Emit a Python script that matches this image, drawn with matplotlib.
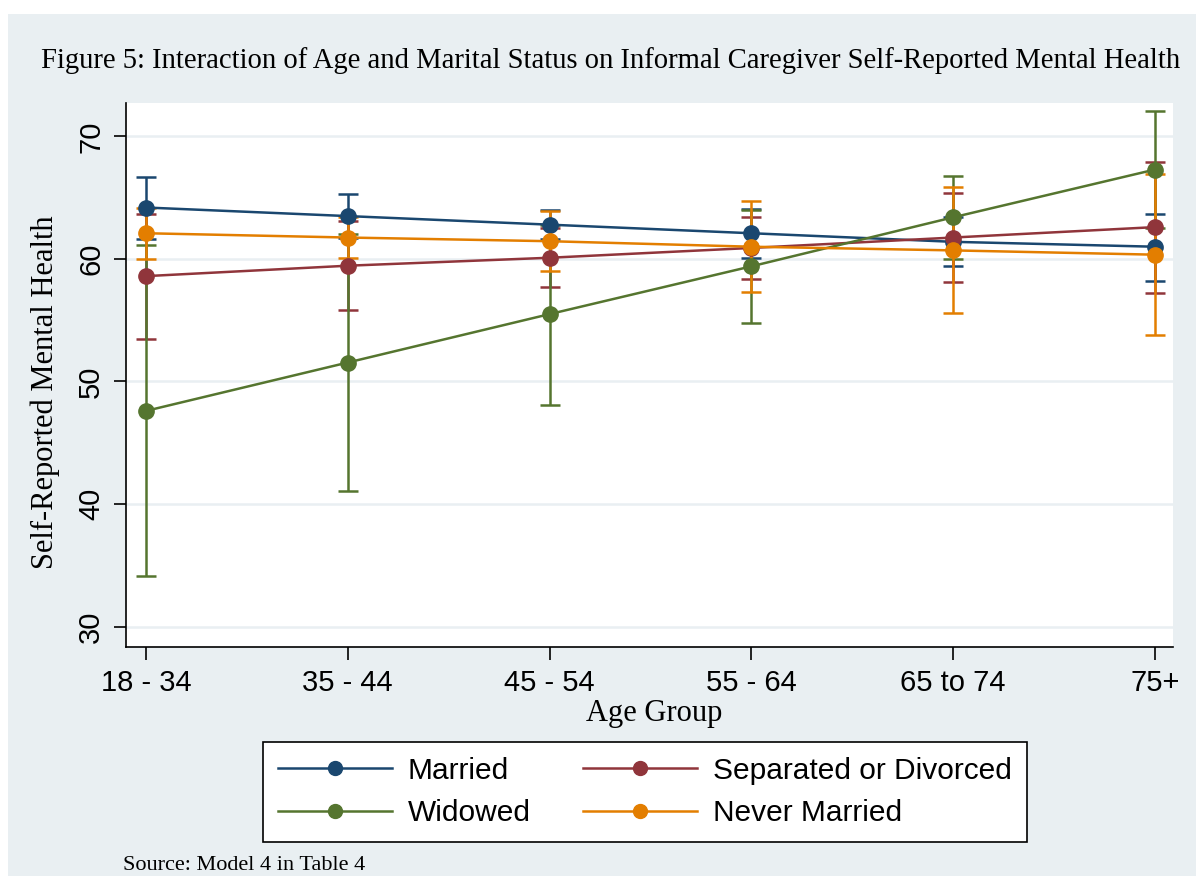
import matplotlib
matplotlib.use("Agg")
import matplotlib.pyplot as plt
from matplotlib.patches import Rectangle
import numpy as np

W, H = 1196, 876

age_groups = ['18 - 34', '35 - 44', '45 - 54', '55 - 64', '65 to 74', '75+']
statuses = ['Married', 'Separated or Divorced', 'Widowed', 'Never Married']
colors = ['#1a476f', '#90353b', '#55752f', '#e37e00']

married = [64.2, 63.5, 62.8, 62.1, 61.4, 61.0]
married_lo = [61.6, 61.7, 61.6, 60.1, 59.4, 58.2]
married_hi = [66.7, 65.3, 64.0, 64.1, 63.4, 63.7]

separated = [58.6, 59.45, 60.1, 60.9, 61.75, 62.6]
separated_lo = [53.5, 55.8, 57.7, 58.4, 58.1, 57.2]
separated_hi = [63.7, 63.1, 62.5, 63.4, 65.4, 67.9]

widowed = [47.6, 51.55, 55.5, 59.4, 63.4, 67.3]
widowed_lo = [34.1, 41.1, 48.1, 54.8, 60.0, 62.5]
widowed_hi = [61.1, 62.0, 62.8, 64.0, 66.8, 72.1]

never = [62.1, 61.75, 61.45, 61.0, 60.7, 60.35]
never_lo = [60.0, 60.1, 59.0, 57.3, 55.6, 53.8]
never_hi = [64.2, 63.4, 63.9, 64.7, 65.9, 66.9]

yticks = [30, 40, 50, 60, 70]

series = [(married, married_lo, married_hi),
          (separated, separated_lo, separated_hi),
          (widowed, widowed_lo, widowed_hi),
          (never, never_lo, never_hi)]

serif = 'Liberation Serif'
sans = 'Liberation Sans'
bg = '#e9eff2'

fig = plt.figure(figsize=(W / 100, H / 100), dpi=100, facecolor='white')
fig.patches.append(Rectangle((8 / W, 0), 1 - 8 / W, 1 - 14 / H,
                             transform=fig.transFigure, facecolor=bg,
                             edgecolor='none', zorder=-10))

ax = fig.add_axes([126 / W, 1 - 647 / H, (1173 - 126) / W, (647 - 103) / H])
ax.set_facecolor('white')

x = np.arange(len(age_groups))

# confidence intervals first, then the connected estimates
for (est, lo, hi), c in zip(series, colors):
    est = np.array(est)
    err = [est - np.array(lo), np.array(hi) - est]
    ax.errorbar(x, est, yerr=err, fmt='none', ecolor=c, elinewidth=1.8,
                capsize=7, capthick=1.8, zorder=3)

handles = []
for (est, lo, hi), c, name in zip(series, colors, statuses):
    ln, = ax.plot(x, est, color=c, lw=1.8, marker='o', markersize=11,
                  label=name, zorder=4)
    handles.append(ln)

ax.set_xlim(-0.099, 5.089)
ax.set_ylim(28.33, 72.73)
ax.set_xticks(x)
ax.set_xticklabels(age_groups, fontfamily=sans, fontsize=21)
ax.set_yticks(yticks)
ax.set_yticklabels([str(t) for t in yticks], fontfamily=sans, fontsize=21,
                   rotation=90, va='center')
ax.tick_params(axis='both', length=9, width=1.2, color='black', pad=6)
ax.tick_params(axis='x', pad=7)
ax.grid(axis='y', color=bg, lw=1.8, zorder=0)
ax.set_axisbelow(True)
for s in ['top', 'right']:
    ax.spines[s].set_visible(False)
for s in ['left', 'bottom']:
    ax.spines[s].set_linewidth(1.2)
    ax.spines[s].set_color('black')

fig.text(611 / W, 1 - 61 / H,
         'Figure 5: Interaction of Age and Marital Status on Informal Caregiver Self-Reported Mental Health',
         ha='center', va='center', fontfamily=serif, fontsize=20.6)
fig.text(45 / W, 1 - 392 / H, 'Self-Reported Mental Health', rotation=90,
         ha='center', va='center', fontfamily=serif, fontsize=22)
fig.text(654 / W, 1 - 714 / H, 'Age Group', ha='center', va='center',
         fontfamily=serif, fontsize=22)
fig.text(123 / W, 1 - 865 / H, 'Source: Model 4 in Table 4', ha='left',
         va='center', fontfamily=serif, fontsize=16)

# Stata fills the legend row-wise: reorder for matplotlib's column-wise fill
order = [0, 2, 1, 3]
leg = fig.legend([handles[i] for i in order], [statuses[i] for i in order],
                 loc='center', bbox_to_anchor=(645 / W, 1 - 792 / H), ncol=2,
                 prop={'family': sans, 'size': 21.5}, numpoints=1,
                 handlelength=3.8, handletextpad=0.55, columnspacing=1.75,
                 labelspacing=0.5, borderpad=0.5, fancybox=False,
                 framealpha=1, edgecolor='black', facecolor='white')
leg.get_frame().set_linewidth(1.2)
for h in leg.legend_handles:
    h.set_markersize(10)

fig.savefig('out.png', dpi=100, facecolor=fig.get_facecolor())
